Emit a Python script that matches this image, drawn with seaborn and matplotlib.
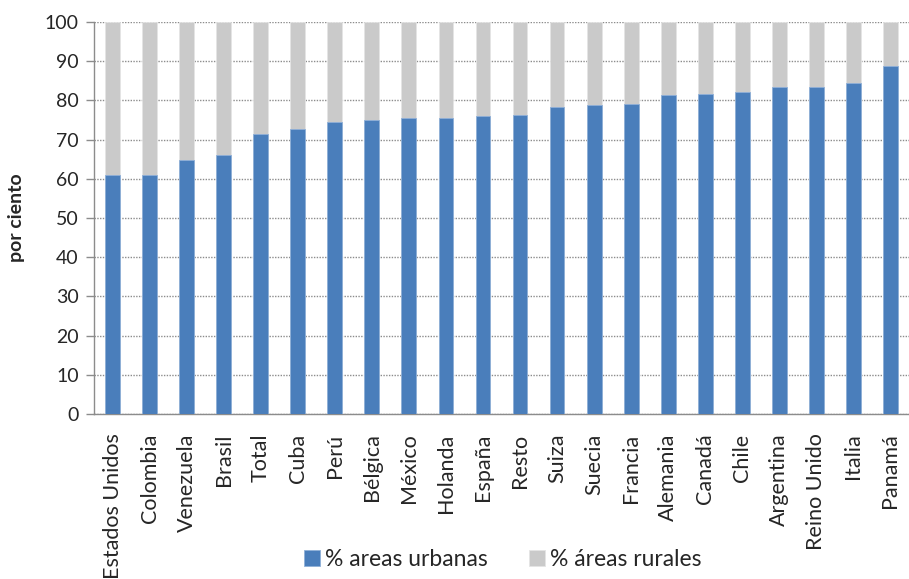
import matplotlib
matplotlib.use("Agg")
import matplotlib.pyplot as plt
import seaborn as sns
import pandas as pd
import numpy as np

# Datos
paises = ['Estados Unidos', 'Colombia', 'Venezuela', 'Brasil', 'Total', 'Cuba', 'Perú',
          'Bélgica', 'México', 'Holanda', 'España', 'Resto', 'Suiza', 'Suecia', 'Francia',
          'Alemania', 'Canadá', 'Chile', 'Argentina', 'Reino Unido', 'Italia', 'Panamá']
urbanas = [60.9, 60.9, 64.8, 66.0, 71.5, 72.7, 74.5, 74.9, 75.4, 75.4, 75.9, 76.4,
           78.4, 78.7, 79.1, 81.4, 81.7, 82.2, 83.3, 83.5, 84.4, 88.9]
rurales = [100 - u for u in urbanas]

df = pd.DataFrame({'pais': paises, 'urbanas': urbanas, 'rurales': rurales})
df['total'] = df['urbanas'] + df['rurales']

sns.set_style("white")
plt.rcParams['font.family'] = ['Lato', 'DejaVu Sans']

fig = plt.figure(figsize=(9.09, 5.79), dpi=100)
ax = fig.add_axes([94 / 909, 165 / 579, 815 / 909, 392 / 579])

azul = '#4A7EBB'
gris = '#CACACA'

sns.barplot(data=df, x='pais', y='total', color=gris, width=0.4, saturation=1,
            edgecolor='#E4E4E4', linewidth=0.6, ax=ax, label='% áreas rurales', zorder=2)
sns.barplot(data=df, x='pais', y='urbanas', color=azul, width=0.4, saturation=1,
            edgecolor='#8FB0D8', linewidth=0.6, ax=ax, label='% areas urbanas', zorder=3)

ax.set_xlim(-0.5, 21.31)
ax.set_ylim(0, 100)
ax.set_yticks(np.arange(0, 101, 10))
ax.yaxis.grid(True, color='#8C8C8C', linestyle=(0, (1, 1)), linewidth=1, zorder=0)
ax.set_axisbelow(True)

ax.set_xticks(range(len(paises)))
ax.set_xticklabels(paises, rotation=90, fontsize=15.5)
ax.set_xticks(np.arange(-0.5, len(paises), 1), minor=True)
ax.tick_params(axis='x', which='major', length=0, pad=14)
ax.tick_params(axis='x', which='minor', length=8, color='#8C8C8C', width=1, direction='out')
ax.tick_params(axis='y', length=6, color='#8C8C8C', width=1, direction='out', labelsize=14, pad=5)
ax.tick_params(left=True, bottom=True)

for s in ['top', 'right']:
    ax.spines[s].set_visible(False)
for s in ['left', 'bottom']:
    ax.spines[s].set_color('#8C8C8C')
    ax.spines[s].set_linewidth(1)

ax.set_xlabel('')
ax.set_ylabel('por ciento', fontsize=14, fontweight='bold', labelpad=14)

handles, labels = ax.get_legend_handles_labels()
orden = [labels.index('% areas urbanas'), labels.index('% áreas rurales')]
fig.legend([handles[i] for i in orden], [labels[i] for i in orden],
           loc='center', bbox_to_anchor=(0.553, 0.033), ncol=2, frameon=False,
           fontsize=16.5, handlelength=0.7, handleheight=0.7, handletextpad=0.2,
           columnspacing=1.8)
if ax.get_legend() is not None:
    ax.get_legend().remove()

fig.savefig('out.png', dpi=100)
